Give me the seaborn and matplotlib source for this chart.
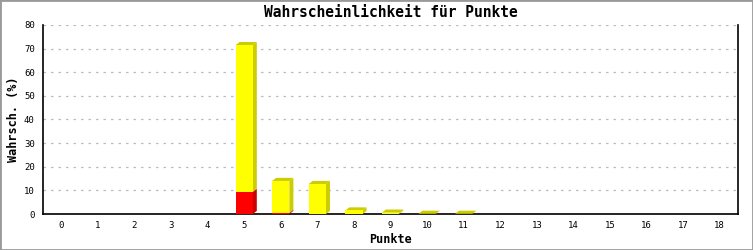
import matplotlib
matplotlib.use("Agg")
import matplotlib.pyplot as plt
from matplotlib.patches import Polygon, Rectangle
import seaborn as sns
import pandas as pd
import numpy as np

points = list(range(19))
red_vals = [0, 0, 0, 0, 0, 9.3, 0.4, 0, 0, 0, 0, 0, 0, 0, 0, 0, 0, 0, 0]
yellow_vals = [0, 0, 0, 0, 0, 62.2, 13.6, 12.7, 1.5, 0.6, 0.1, 0.1, 0, 0, 0, 0, 0, 0, 0]
title = "Wahrscheinlichkeit für Punkte"
xlabel = "Punkte"
ylabel = "Wahrsch. (%)"
yticks = [0, 10, 20, 30, 40, 50, 60, 70, 80]

sns.set_style("white")
plt.rcParams['font.family'] = ['DejaVu Sans Mono']
plt.rcParams['text.color'] = 'black'
plt.rcParams['axes.labelcolor'] = 'black'
plt.rcParams['xtick.color'] = 'black'
plt.rcParams['ytick.color'] = 'black'

df = pd.DataFrame({"Punkte": [str(p) for p in points],
                   "red": red_vals,
                   "total": np.array(red_vals) + np.array(yellow_vals)})

fig = plt.figure(figsize=(7.53, 2.5), dpi=100)
fig.patch.set_facecolor("white")
ax = fig.add_axes([43/753, 36/250, 695/753, 189/250])

sns.barplot(data=df, x="Punkte", y="total", color="#ffff00", saturation=1,
            width=0.47, ax=ax, linewidth=0, zorder=3)
sns.barplot(data=df, x="Punkte", y="red", color="#ff0000", saturation=1,
            width=0.47, ax=ax, linewidth=0, zorder=3)

ax.set_xlim(-0.5, 18.5)
ax.set_ylim(0, 80)

# 3D side/top faces
dx = 0.11   # data units (~4px)
dy = 1.3    # data units (~3px)
for i in range(len(points)):
    x0 = i - 0.235
    x1 = i + 0.235
    r = red_vals[i]
    t = r + yellow_vals[i]
    if t <= 0:
        continue
    if t > r:
        ax.add_patch(Polygon([(x1, r), (x1 + dx, r + dy), (x1 + dx, t + dy), (x1, t)],
                             closed=True, facecolor="#cccc00", edgecolor="none", zorder=2.9))
    ax.add_patch(Polygon([(x0, t), (x0 + dx, t + dy), (x1 + dx, t + dy), (x1, t)],
                         closed=True, facecolor="#cccc00", edgecolor="none", zorder=2.9))
    if r > 0:
        ax.add_patch(Polygon([(x1, 0), (x1 + dx, dy), (x1 + dx, r + dy), (x1, r)],
                             closed=True, facecolor="#cc0000", edgecolor="none", zorder=3.1))

ax.yaxis.grid(True, linestyle=(0, (2, 4)), color="#bbbbbb", linewidth=0.9, zorder=0)
ax.set_axisbelow(True)
ax.set_yticks(yticks)
ax.tick_params(axis="y", direction="inout", length=8, width=1, labelsize=6.5, pad=2)
ax.tick_params(axis="x", length=0, labelsize=6.5, pad=5)

for s in ["left", "bottom", "right"]:
    ax.spines[s].set_color("black")
    ax.spines[s].set_linewidth(1.2)
ax.spines["top"].set_visible(False)

ax.set_title(title, fontsize=10.5, fontweight="bold", pad=6, color="black")
ax.set_xlabel(xlabel, fontsize=8.5, fontweight="bold", labelpad=2)
ax.set_ylabel(ylabel, fontsize=8.5, fontweight="bold", labelpad=3)

fig.add_artist(Rectangle((0, 0), 1, 1, transform=fig.transFigure, fill=False,
                         edgecolor="#999999", linewidth=2))

fig.savefig("out.png", dpi=100)
